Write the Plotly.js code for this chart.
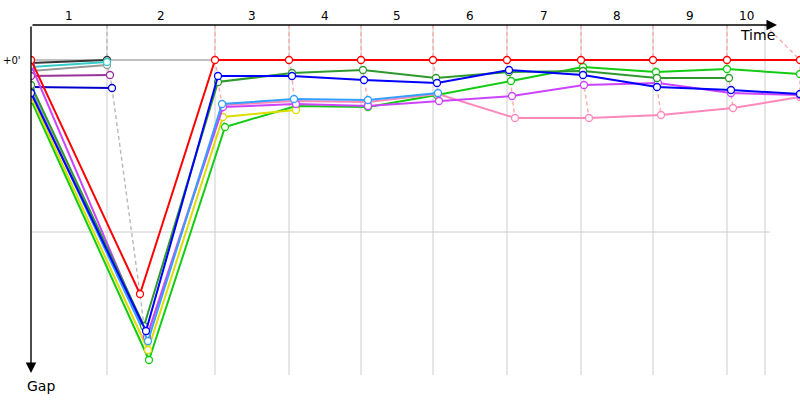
<!DOCTYPE html>
<html><head><meta charset="utf-8">
<script src="https://cdn.plot.ly/plotly-3.0.1.min.js"></script>
<style>html,body{margin:0;padding:0;background:#fff}#chart{width:800px;height:400px}</style>
</head><body><div id="chart"></div>
<script>
// ---- data (time and gap units) ----
const lapLabels = ['1','2','3','4','5','6','7','8','9','10'];
const lapLineTimes = [76, 184, 258, 330, 402, 476, 550, 622, 696, 734];
const gapGridValues = [0, 172];
const gapTickText = ["+0'"];

const darkgrayTime = [0, 76];   const darkgrayGap = [3, 0];
const tealTime     = [0, 76];   const tealGap     = [7, 2];
const grayTime     = [0, 76];   const grayGap     = [11, 5];
const purpleTime   = [0, 79];   const purpleGap   = [16, 15];
const navyTime     = [0, 81];   const navyGap     = [27, 28];

const greenTime   = [0, 118, 194, 265, 337, 406, 480, 552, 625, 696, 769];
const greenGap    = [40, 300, 67, 46, 47, 35, 21, 7, 12, 9, 14];
const yellowTime  = [0, 117, 192, 265];
const yellowGap   = [36, 290, 57, 50];
const pinkTime    = [0, 116, 192, 264, 337, 407, 484, 558, 630, 702, 769];
const pinkGap     = [28, 276, 45, 41, 42, 34, 58, 58, 55, 48, 37];
const magentaTime = [0, 116, 192, 265, 337, 408, 481, 553, 627, 700, 769];
const magentaGap  = [5, 277, 47, 44, 46, 41, 36, 25, 23, 33, 35];
const skyTime     = [0, 117, 191, 263, 337, 407];
const skyGap      = [31, 281, 44, 39, 40, 33];
const dkgreenTime = [0, 113, 187, 261, 332, 405, 478, 552, 626, 698];
const dkgreenGap  = [25, 266, 22, 13, 10, 18, 12, 11, 18, 18];
const blueTime    = [0, 115, 187, 261, 333, 406, 478, 552, 626, 700, 769];
const blueGap     = [33, 271, 16, 16, 20, 23, 10, 15, 27, 30, 34];
const redTime     = [0, 109, 184, 258, 330, 402, 476, 550, 622, 696, 769];
const redGap      = [0, 234, 0, 0, 0, 0, 0, 0, 0, 0, 0];

// ---- styling ----
const series = [
  {t: darkgrayTime, g: darkgrayGap, c: '#333333'},
  {t: grayTime, g: grayGap, c: '#999999'},
  {t: tealTime, g: tealGap, c: '#33cccc'},
  {t: purpleTime, g: purpleGap, c: '#993399'},
  {t: navyTime, g: navyGap, c: '#0000cc'},
  {t: greenTime, g: greenGap, c: '#11cc11'},
  {t: yellowTime, g: yellowGap, c: '#dddd00'},
  {t: pinkTime, g: pinkGap, c: '#ff88bb'},
  {t: magentaTime, g: magentaGap, c: '#cc44ff'},
  {t: skyTime, g: skyGap, c: '#33a0ff'},
  {t: dkgreenTime, g: dkgreenGap, c: '#2e9a2e'},
  {t: blueTime, g: blueGap, c: '#0000ff'},
  {t: redTime, g: redGap, c: '#ff0000'}
];

const TOP = -35, BOTTOM = 315, XMAX = 769;
const traces = [];

// lap connector dashed lines built from the series points
for (let k = 1; k <= lapLineTimes.length; k++) {
  const pts = [];
  series.forEach(s => { if (s.t.length > k) pts.push([s.t[k], s.g[k]]); });
  pts.sort((a, b) => a[1] - b[1]);
  const xs = [lapLineTimes[k - 1]].concat(pts.map(p => p[0]));
  const ys = [TOP].concat(pts.map(p => p[1]));
  traces.push({x: xs, y: ys, mode: 'lines', hoverinfo: 'skip',
    line: {color: k === 1 ? '#b8b8b8' : '#ffaaaa', width: 1.4, dash: '4px,3px'}});
}

series.forEach(s => {
  traces.push({x: s.t, y: s.g, mode: 'lines+markers',
    line: {color: s.c, width: 2},
    marker: {symbol: 'circle', size: 7, color: '#ffffff', line: {color: s.c, width: 1.3}}});
});

const shapes = [];
lapLineTimes.forEach(t => shapes.push({type: 'line', xref: 'x', yref: 'y', x0: t, x1: t, y0: TOP, y1: BOTTOM,
  line: {color: '#cccccc', width: 1}, layer: 'below'}));
gapGridValues.forEach((g, i) => shapes.push({type: 'line', xref: 'x', yref: 'y', x0: 0, x1: 739, y0: g, y1: g,
  line: {color: i === 0 ? '#808080' : '#cccccc', width: 1}, layer: 'below'}));

const annotations = [];
lapLabels.forEach((lab, i) => {
  const a = i === 0 ? 0 : lapLineTimes[i - 1];
  const b = lapLineTimes[i];
  annotations.push({x: (a + b) / 2, xref: 'x', y: 1, yref: 'paper', yshift: 9, yanchor: 'middle',
    text: lab, showarrow: false, font: {size: 12, color: '#000'}});
});
annotations.push({x: 0, xref: 'paper', xanchor: 'right', xshift: -8, y: gapGridValues[0], yref: 'y',
  text: gapTickText[0], showarrow: false, font: {size: 10, color: '#000'}});
// axes with arrows
annotations.push({x: 746, y: TOP, xref: 'x', yref: 'y', ax: 0, ay: TOP, axref: 'x', ayref: 'y',
  text: '', showarrow: true, arrowhead: 2, arrowsize: 1.5, arrowwidth: 1.4, arrowcolor: '#000'});
annotations.push({x: 0, y: 313, xref: 'x', yref: 'y', ax: 0, ay: TOP, axref: 'x', ayref: 'y',
  text: '', showarrow: true, arrowhead: 2, arrowsize: 1.5, arrowwidth: 1.4, arrowcolor: '#000'});
annotations.push({x: 1, xref: 'paper', xanchor: 'right', xshift: -23, y: 1, yref: 'paper', yshift: -10,
  yanchor: 'middle', text: 'Time', showarrow: false, font: {size: 14, color: '#000'}});
annotations.push({x: 0, xref: 'paper', xshift: -6, y: 0, yref: 'paper', yshift: -11, yanchor: 'middle',
  text: 'Gap', showarrow: false, font: {size: 14, color: '#000'}});

const layout = {
  width: 800, height: 400,
  margin: {l: 31, r: 0, t: 25, b: 25},
  paper_bgcolor: '#ffffff', plot_bgcolor: '#ffffff',
  font: {family: 'DejaVu Sans, Verdana, sans-serif', color: '#000'},
  showlegend: false,
  xaxis: {range: [0, XMAX], visible: false, fixedrange: true},
  yaxis: {range: [BOTTOM, TOP], visible: false, fixedrange: true},
  shapes: shapes,
  annotations: annotations
};

Plotly.newPlot('chart', traces, layout, {displayModeBar: false, staticPlot: true});
</script>
</body></html>
